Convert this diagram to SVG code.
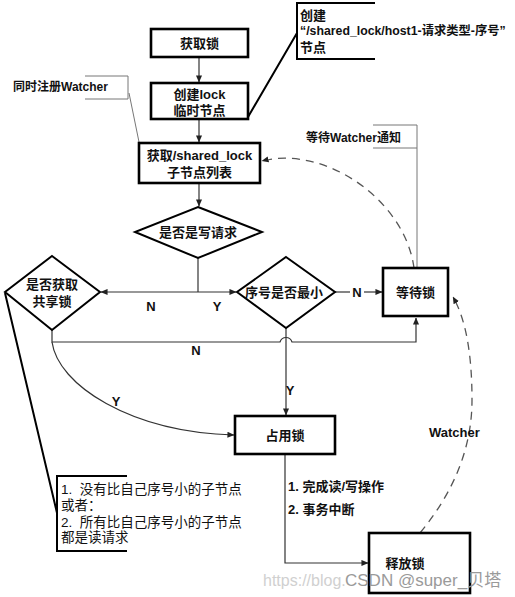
<svg xmlns="http://www.w3.org/2000/svg" width="515" height="597" viewBox="0 0 515 597">
<defs>
<marker id="arr" viewBox="0 0 8 8" refX="7.5" refY="4" markerWidth="7" markerHeight="7" markerUnits="userSpaceOnUse" orient="auto">
<path d="M0,0.5 L8,4 L0,7.5 Z" fill="#222"/>
</marker>
<style>
.box{fill:#fff;stroke:#000;stroke-width:2.6}
.dia{fill:#fff;stroke:#000;stroke-width:2}
.t{font-family:"Liberation Sans","Noto Sans CJK SC",sans-serif;font-size:13px;font-weight:bold;fill:#111;text-anchor:middle;dominant-baseline:central}
.l{font-family:"Liberation Sans","Noto Sans CJK SC",sans-serif;font-size:13px;font-weight:bold;fill:#111;dominant-baseline:central}
.n{font-family:"Liberation Sans","Noto Sans CJK SC",sans-serif;font-size:13.5px;fill:#111;dominant-baseline:central}
.c{fill:none;stroke:#333;stroke-width:1.2}
.d{fill:none;stroke:#555;stroke-width:1.3;stroke-dasharray:8 6}
.g{fill:none;stroke:#777;stroke-width:1}
.k{fill:none;stroke:#000;stroke-width:2}
</style>
</defs>
<rect width="515" height="597" fill="#fff"/>

<g id="connectors">
<line class="c" x1="199" y1="57" x2="199" y2="82" marker-end="url(#arr)"/>
<line class="c" x1="199" y1="120" x2="199" y2="142" marker-end="url(#arr)"/>
<line class="c" x1="199" y1="183" x2="199" y2="206" marker-end="url(#arr)"/>
<path class="c" d="M198,258 V292"/>
<line class="c" x1="198" y1="292" x2="101" y2="292" marker-end="url(#arr)"/>
<line class="c" x1="198" y1="292" x2="236" y2="292" marker-end="url(#arr)"/>
<line class="c" x1="335" y1="292" x2="350" y2="292"/>
<line class="c" x1="364" y1="292" x2="382" y2="292" marker-end="url(#arr)"/>
<path class="c" d="M52,330 V342 H280 C282,336 290,336 292,342 H416 V318" marker-end="url(#arr)"/>
<line class="c" x1="286" y1="328" x2="286" y2="415" marker-end="url(#arr)"/>
<path class="c" d="M52,342 C58,385 130,432 234,435" marker-end="url(#arr)"/>
<path class="c" d="M285,454 V563 H368" marker-end="url(#arr)"/>
<path class="d" d="M420,533 Q472,470 472,400 Q472,330 453,297" marker-end="url(#arr)"/>
<path class="d" d="M414,268 C405,200 325,145 262,161" marker-end="url(#arr)"/>
<path class="g" d="M85,76 H128 V99 H85 M129,93 L139,142"/>
<path class="g" d="M373,125 H417 V148 H373 M417,148 V268"/>
<path class="k" d="M375,3 H297 V59 H375 M248,117 L297,33"/>
<path class="k" d="M127,476 H57 V551 H127 M5,293 L57,513"/>
</g>

<g id="n1"><rect class="box" x="151" y="29" width="97" height="28"/><text class="t" x="199.5" y="43">获取锁</text></g>
<g id="n2"><rect class="box" x="151" y="83" width="97" height="36"/><text class="t" x="199.5" y="94">创建lock</text><text class="t" x="199.5" y="110">临时节点</text></g>
<g id="n3"><rect class="box" x="139" y="143" width="121" height="40"/><text class="t" x="199.5" y="155">获取/shared_lock</text><text class="t" x="199.5" y="172">子节点列表</text></g>
<g id="d1"><polygon class="dia" points="198,207 262,232 198,258 135,232"/><text class="t" x="198" y="232">是否是写请求</text></g>
<g id="d2"><polygon class="dia" points="52,256 100,292 52,330 5,292"/><text class="t" x="52" y="284">是否获取</text><text class="t" x="52" y="301">共享锁</text></g>
<g id="d3"><polygon class="dia" points="286,257 335,292 286,328 237,292"/><text class="t" x="284" y="292">序号是否最小</text></g>
<g id="n4"><rect class="box" x="383" y="268" width="65" height="48"/><text class="t" x="415.5" y="292">等待锁</text></g>
<g id="n5"><rect class="box" x="235" y="416" width="100" height="38"/><text class="t" x="285" y="435">占用锁</text></g>
<g id="n6"><rect class="box" x="369" y="533" width="101" height="60"/><text class="t" x="405" y="563">释放锁</text></g>

<g id="labels">
<text class="t" x="151" y="306">N</text>
<text class="t" x="217" y="306">Y</text>
<text class="t" x="357" y="292">N</text>
<text class="t" x="196" y="350">N</text>
<text class="t" x="290" y="390">Y</text>
<text class="t" x="116" y="401">Y</text>
<text class="l" x="288" y="486">1. 完成读/写操作</text>
<text class="l" x="288" y="509">2. 事务中断</text>
<text class="l" x="429" y="432">Watcher</text>
<text class="l" x="13" y="87" style="font-size:12px">同时注册Watcher</text>
<text class="l" x="306" y="138" style="font-size:12px">等待Watcher通知</text>
<text class="l" x="300" y="15">创建</text>
<text class="l" x="300" y="31" style="font-size:12.3px">“/shared_lock/host1-请求类型-序号”</text>
<text class="l" x="300" y="47">节点</text>
<text class="n" x="61" y="489" xml:space="preserve">1.  没有比自己序号小的子节点</text>
<text class="n" x="61" y="505">或者：</text>
<text class="n" x="61" y="522" xml:space="preserve">2.  所有比自己序号小的子节点</text>
<text class="n" x="61" y="537">都是读请求</text>
<text x="263" y="586" style="font-family:'Liberation Sans','Noto Sans CJK SC',sans-serif;font-size:16px;fill:#d0d0d0">https://blog.</text>
<text x="345" y="586" style="font-family:'Liberation Sans','Noto Sans CJK SC',sans-serif;font-size:17px;fill:#9a9a9a">CSDN @super_贝塔</text>
</g>
</svg>
